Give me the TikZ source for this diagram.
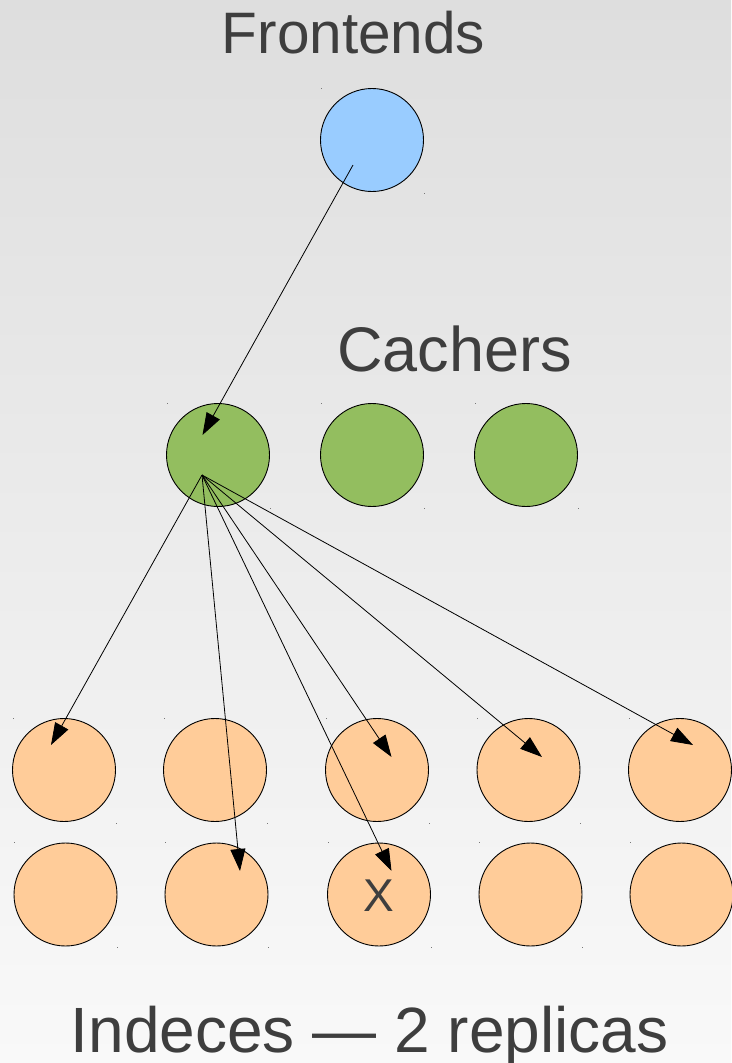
\documentclass[tikz,border=0pt]{standalone}
\usepackage{fontspec}
\setmainfont{Liberation Sans}
\usetikzlibrary{arrows.meta,calc}
\definecolor{bgtop}{RGB}{222,222,222}
\definecolor{bgbot}{RGB}{249,249,249}
\definecolor{feblue}{RGB}{153,204,255}
\definecolor{cachegreen}{RGB}{147,190,95}
\definecolor{idxorange}{RGB}{255,204,153}
\definecolor{labelgray}{RGB}{62,62,62}
\definecolor{markgray}{RGB}{120,120,120}
\begin{document}
\begin{tikzpicture}[x=1pt,y=-1pt,
  server/.style={circle,draw=black,line width=0.9pt,minimum size=103pt,inner sep=0pt},
  frontend/.style={server,fill=feblue},
  cacher/.style={server,fill=cachegreen},
  index/.style={server,fill=idxorange},
  request/.style={line width=0.8pt,-{Triangle[length=22pt,width=15pt]}},
  heading/.style={text=labelgray,anchor=base,inner sep=0pt},
  cornermark/.style={fill=markgray}]
% background gradient
\shade[top color=bgtop,bottom color=bgbot] (0pt,0pt) rectangle (731pt,-1063pt);
\useasboundingbox (0,0) rectangle (731,1063);

% headings
\node[heading,font=\fontsize{58.5}{61}\selectfont] (tfront) at (353.5,53.3) {Frontends};
\node[heading,font=\fontsize{63}{66}\selectfont] (tcache) at (454.5,371.7) {Cachers};
\node[heading,font=\fontsize{64}{68}\selectfont] (tindex) at (369.5,1052.7) {Indeces — 2 replicas};

% servers
\node[frontend] (fe) at (372,140) {};
\node[cacher] (c1) at (218,455) {};
\node[cacher] (c2) at (372,455) {};
\node[cacher] (c3) at (526,455) {};
\foreach \i/\x in {1/64,2/215,3/377,4/528.5,5/680}
  \node[index] (a\i) at (\x,770) {};
\foreach \i/\x in {1/65.5,2/216.5,3/379,4/530.5,5/681.5}
  \node[index] (b\i) at (\x,894.5) {};
\node[text=labelgray,anchor=base,inner sep=0pt,font=\fontsize{46}{48}\selectfont] (xmark) at (379,911) {X};

% small corner marks of the shapes
\foreach \n in {fe,c1,c2,c3,a1,a2,a3,a4,a5,b1,b2,b3,b4,b5}{
  \fill[cornermark] ($(\n.center)+(-51.5,-52.5)$) rectangle ++(1.3,1.3);
  \fill[cornermark] ($(\n.center)+(51.5,52.5)$) rectangle ++(1.3,1.3);
}

% connection points
\coordinate (feout) at (353,165);
\coordinate (c1in) at (202.5,435);
\coordinate (c1out) at (202,475);
\coordinate (ta1) at (51,745);
\coordinate (tb2) at (240,871);
\coordinate (ta3) at (391.5,757);
\coordinate (tb3) at (391.5,871);
\coordinate (ta4) at (542,757);
\coordinate (ta5) at (693,745);

% requests
\draw[request] (feout) -- (c1in);
\foreach \t in {ta1,tb2,ta3,tb3,ta4,ta5}
  \draw[request] (c1out) -- (\t);
\end{tikzpicture}
\end{document}
